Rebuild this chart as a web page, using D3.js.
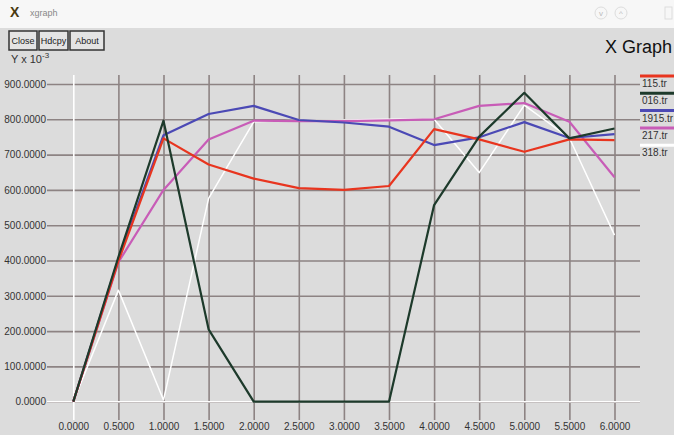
<!DOCTYPE html>
<html>
<head>
<meta charset="utf-8">
<script src="https://cdn.jsdelivr.net/npm/d3@7"></script>
<style>
  body { margin: 0; background: #dcdcdc; }
  svg { display: block; font-family: "Liberation Sans", Arial, sans-serif; }
</style>
</head>
<body>
<svg id="chart" width="674" height="435"></svg>
<script>
// x values shared by every trace
const xValues = [0, 0.5, 1.0, 1.5, 2.0, 2.5, 3.0, 3.5, 4.0, 4.5, 5.0, 5.5, 6.0];

// y values (x 10^-3)
const tr115 = [0, 398, 746, 672, 632, 605, 600, 611, 772, 743, 708, 743, 741];
const tr016 = [0, 410, 796, 205, 0, 0, 0, 0, 557, 751, 875, 746, 774];
const tr1915 = [0, 405, 755, 815, 838, 798, 791, 779, 727, 749, 792, 747, 758];
const tr217 = [0, 395, 600, 743, 796, 795, 795, 797, 800, 838, 846, 793, 636];
const tr318 = [0, 316, 5, 576, 793, 797, 798, 800, 800, 649, 840, 747, 472];

const seriesNames = ["115.tr", "016.tr", "1915.tr", "217.tr", "318.tr"];
const seriesValues = [tr115, tr016, tr1915, tr217, tr318];
const seriesColors = ["#e8351f", "#1d3a2b", "#4b49b5", "#c85cb7", "#ffffff"];

const xTicks = d3.range(0, 6.01, 0.5);
const yTicks = d3.range(0, 901, 100);

const svg = d3.select("#chart");

// window title bar
svg.append("rect").attr("width", 674).attr("height", 28).attr("fill", "#f7f7f7");
svg.append("text").attr("x", 10).attr("y", 17).attr("font-size", 14)
  .attr("font-weight", "bold").attr("fill", "#4a3a10").text("X");
svg.append("text").attr("x", 30).attr("y", 16).attr("font-size", 9)
  .attr("fill", "#888").text("xgraph");
[[601, "v"], [621, "^"]].forEach(([x, t]) => {
  svg.append("circle").attr("cx", x).attr("cy", 13).attr("r", 6)
    .attr("fill", "none").attr("stroke", "#ddd");
  svg.append("text").attr("x", x).attr("y", 16).attr("text-anchor", "middle")
    .attr("font-size", 8).attr("fill", "#bbb").text(t);
});
svg.append("rect").attr("x", 665).attr("y", 7).attr("width", 7).attr("height", 12)
  .attr("fill", "none").attr("stroke", "#ddd");

// buttons
const buttons = [["Close", 9, 28], ["Hdcpy", 39, 29], ["About", 70, 34]];
buttons.forEach(([label, x, w]) => {
  svg.append("rect").attr("x", x).attr("y", 31).attr("width", w).attr("height", 19)
    .attr("fill", "#e4e4e4").attr("stroke", "#333").attr("stroke-width", 1.5);
  svg.append("text").attr("x", x + w / 2).attr("y", 44).attr("text-anchor", "middle")
    .attr("font-size", 9).attr("fill", "#222").text(label);
});

svg.append("text").attr("x", 672).attr("y", 53).attr("text-anchor", "end")
  .attr("font-size", 18).attr("fill", "#111").text("X Graph");

const yLabel = svg.append("text").attr("x", 11).attr("y", 63)
  .attr("font-size", 11).attr("fill", "#333");
yLabel.append("tspan").text("Y x 10");
yLabel.append("tspan").attr("dy", -5).attr("font-size", 8).text("-3");

// scales
const x = d3.scaleLinear().domain([0, 6]).range([73.3, 614.5]);
const y = d3.scaleLinear().domain([0, 900]).range([401.7, 84]);

const gridLeft = 47, gridRight = 640, gridTop = 75, gridBottom = 420;
const gridColor = "#8d8383";

// horizontal grid + y labels
const yAxis = svg.append("g")
  .attr("transform", `translate(${gridLeft},0)`)
  .call(d3.axisLeft(y).tickValues(yTicks).tickFormat(d3.format(".4f"))
    .tickSize(-(gridRight - gridLeft)).tickPadding(1));
yAxis.select(".domain").remove();
yAxis.selectAll(".tick line")
  .attr("stroke", gridColor)
  .attr("stroke-width", 1.6);
yAxis.selectAll(".tick text").attr("font-size", 10).attr("fill", "#333")
  .attr("font-family", "Liberation Sans, Arial, sans-serif");

// vertical grid + x labels
const xAxis = svg.append("g")
  .attr("transform", `translate(0,${gridBottom})`)
  .call(d3.axisBottom(x).tickValues(xTicks).tickFormat(d3.format(".4f"))
    .tickSize(-(gridBottom - gridTop)).tickPadding(3));
xAxis.select(".domain").remove();
xAxis.selectAll(".tick line")
  .attr("stroke", d => d === 0 ? "#ffffff" : gridColor)
  .attr("stroke-width", 1.6);
xAxis.selectAll(".tick text").attr("font-size", 10).attr("fill", "#333")
  .attr("font-family", "Liberation Sans, Arial, sans-serif");

// white zero line across the grid
svg.append("line")
  .attr("x1", gridLeft).attr("x2", gridRight)
  .attr("y1", y(0)).attr("y2", y(0))
  .attr("stroke", "#ffffff").attr("stroke-width", 1.6);

// traces: draw white first so others sit over it
const line = d3.line().x((d, i) => x(xValues[i])).y(d => y(d));
const order = [4, 3, 2, 0, 1];
svg.append("g").selectAll("path")
  .data(order)
  .join("path")
  .attr("d", i => line(seriesValues[i]))
  .attr("fill", "none")
  .attr("stroke", i => seriesColors[i])
  .attr("stroke-width", i => i === 4 ? 1.5 : 2.2)
  .attr("stroke-linejoin", "round");

// legend on the right
const legend = svg.append("g").selectAll("g")
  .data(seriesNames)
  .join("g")
  .attr("transform", (d, i) => `translate(640,${76 + i * 17.3})`);
legend.append("line").attr("x1", 0).attr("x2", 34)
  .attr("stroke", (d, i) => seriesColors[i]).attr("stroke-width", 3);
legend.append("text").attr("x", 2).attr("y", 11).attr("font-size", 10)
  .attr("fill", "#333").text(d => d);
</script>
</body>
</html>
